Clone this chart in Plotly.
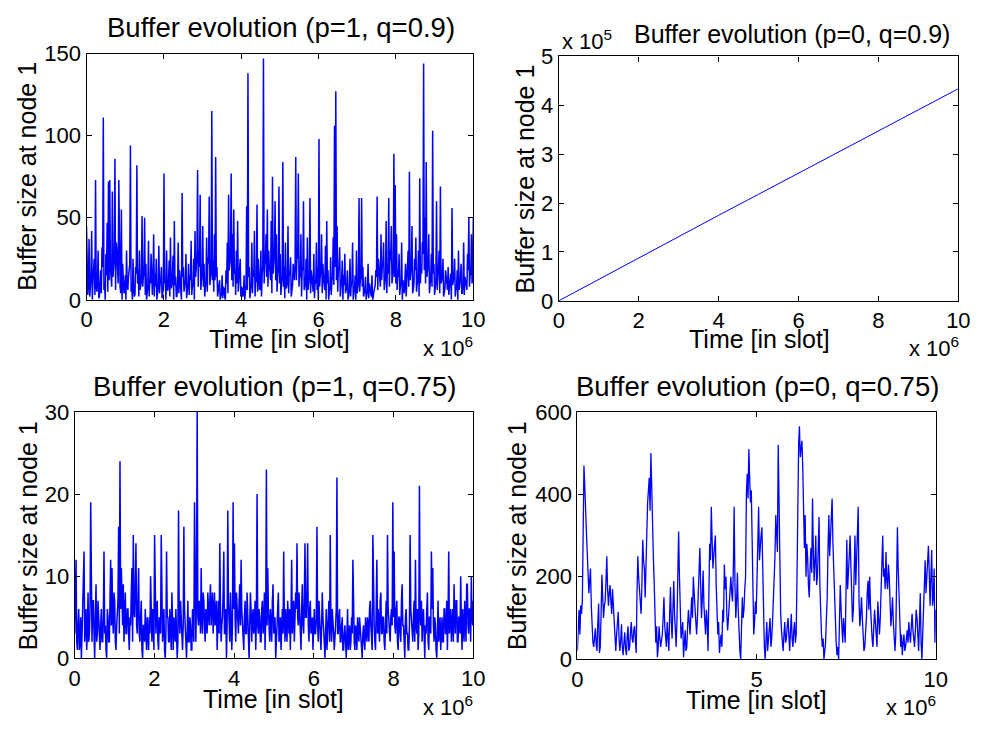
import numpy as np
import plotly.graph_objects as go

# ---------------- data ----------------
T_END = 1e7

# p=1, q=0.9 (buffer size, sampled uniformly over time)
buf_p1_q09 = [
    45, 4, 3, 10, 37, 2, 8, 14, 42, 0, 12, 18, 25, 3, 73, 8, 5, 12, 30, 1, 2, 9, 18, 4, 32, 20, 111, 6, 10, 0, 28, 15, 47, 5, 72, 12, 73, 20, 15, 8,
    66, 14, 20, 25, 86, 6, 35, 30, 12, 10, 73, 18, 8, 4, 55, 0, 22, 12, 4, 6, 15, 0, 30, 9, 6, 14, 18, 22, 94, 5, 10, 0, 25, 7, 2, 3, 20, 16, 82, 10,
    18, 2, 30, 6, 8, 12, 51, 8, 14, 16, 50, 3, 22, 0, 5, 9, 36, 2, 12, 10, 28, 5, 3, 14, 40, 2, 16, 8, 25, 0, 7, 9, 33, 4, 10, 12, 20, 1, 4, 7,
    77, 10, 12, 0, 30, 6, 6, 11, 24, 2, 38, 7, 9, 14, 27, 0, 48, 9, 14, 2, 2, 10, 35, 4, 18, 12, 8, 0, 65, 14, 20, 5, 11, 12, 28, 1, 5, 8, 22, 3,
    15, 12, 36, 3, 9, 8, 25, 0, 42, 14, 18, 26, 79, 8, 30, 20, 64, 6, 12, 15, 45, 8, 22, 2, 8, 12, 38, 5, 26, 22, 63, 9, 14, 16, 115, 12, 24, 5, 40, 12,
    87, 14, 20, 2, 5, 6, 12, 0, 3, 4, 15, 1, 8, 7, 2, 0, 18, 10, 35, 4, 64, 18, 22, 25, 77, 12, 40, 8, 55, 16, 18, 3, 30, 10, 48, 5, 12, 14, 25, 2,
    8, 7, 2, 4, 15, 0, 5, 9, 57, 6, 138, 14, 20, 1, 10, 10, 35, 4, 18, 14, 42, 2, 12, 11, 58, 5, 25, 18, 6, 7, 30, 2, 16, 20, 147, 10, 22, 24, 40, 14,
    55, 8, 30, 20, 18, 12, 48, 4, 75, 16, 25, 28, 60, 12, 40, 5, 15, 20, 69, 10, 28, 3, 10, 14, 84, 8, 20, 1, 35, 7, 8, 11, 45, 4, 18, 15, 26, 2, 5, 9,
    22, 16, 12, 22, 87, 12, 30, 25, 77, 8, 15, 14, 40, 2, 20, 18, 60, 6, 8, 10, 25, 0, 38, 6, 14, 14, 62, 4, 18, 12, 5, 5, 28, 1, 12, 10, 35, 6, 20, 0,
    98, 8, 15, 16, 40, 4, 22, 14, 10, 6, 33, 0, 48, 10, 18, 0, 5, 8, 26, 3, 12, 14, 38, 9, 106, 20, 127, 12, 45, 5, 20, 18, 32, 2, 8, 11, 24, 0, 15, 9,
    28, 4, 6, 9, 18, 0, 2, 6, 25, 2, 10, 10, 35, 0, 4, 7, 15, 0, 30, 4, 8, 11, 62, 5, 12, 14, 62, 8, 20, 2, 5, 6, 14, 0, 3, 5, 22, 1, 10, 7,
    4, 2, 15, 0, 2, 5, 8, 9, 18, 14, 63, 6, 25, 18, 12, 8, 40, 12, 20, 22, 35, 6, 10, 14, 48, 4, 22, 16, 62, 8, 30, 24, 45, 10, 15, 18, 89, 14, 70, 10,
    40, 6, 18, 14, 28, 3, 8, 10, 35, 0, 12, 7, 4, 12, 22, 2, 10, 16, 30, 8, 78, 12, 15, 20, 45, 4, 6, 10, 25, 18, 38, 5, 12, 14, 30, 2, 74, 10, 20, 16,
    35, 28, 144, 18, 50, 10, 84, 14, 18, 22, 40, 4, 10, 14, 28, 8, 103, 16, 22, 3, 8, 12, 60, 6, 15, 18, 30, 4, 69, 10, 12, 16, 25, 2, 5, 7, 18, 12, 10, 6,
    20, 3, 8, 12, 16, 0, 56, 9, 12, 14, 25, 2, 6, 7, 18, 0, 30, 6, 10, 12, 22, 4, 4, 9, 35, 3, 14, 12, 8, 6, 28, 18, 50, 8, 15, 16, 40, 10, 12, 50,
]

# p=0, q=0.9 (grows linearly)
time_p0_q09 = [0, 1e6, 2e6, 3e6, 4e6, 5e6, 6e6, 7e6, 8e6, 9e6, 1e7]
buf_p0_q09 = [0, 0.44e5, 0.88e5, 1.31e5, 1.75e5, 2.18e5, 2.61e5, 3.05e5, 3.48e5, 3.91e5, 4.34e5]

# p=1, q=0.75
buf_p1_q075 = [
    3, 6, 12, 2, 1, 4, 6, 1, 2, 5, 0, 3, 6, 8, 13, 2, 4, 6, 1, 3, 8, 2, 3, 6, 19, 4, 2, 7, 7, 3, 0, 5, 9, 2, 3, 7, 5, 1, 1, 4,
    6, 2, 2, 5, 13, 3, 4, 1, 0, 6, 5, 2, 2, 7, 12, 4, 11, 5, 3, 8, 7, 2, 1, 4, 5, 7, 16, 3, 24, 6, 11, 4, 4, 9, 2, 5, 8, 3, 3, 6,
    6, 3, 1, 5, 4, 8, 11, 2, 15, 6, 5, 9, 14, 4, 3, 7, 11, 3, 2, 5, 7, 1, 0, 4, 4, 2, 6, 3, 1, 5, 3, 1, 5, 3, 10, 2, 2, 6, 4, 1,
    15, 4, 3, 6, 7, 2, 1, 5, 4, 3, 15, 6, 2, 4, 6, 1, 0, 3, 13, 5, 5, 2, 2, 6, 4, 1, 8, 3, 1, 5, 3, 2, 6, 4, 0, 2, 18, 5, 3, 7,
    5, 2, 1, 4, 16, 6, 3, 1, 0, 3, 7, 2, 2, 5, 4, 1, 1, 6, 3, 2, 19, 4, 2, 8, 30, 5, 4, 7, 6, 3, 11, 5, 3, 8, 7, 4, 2, 6, 5, 3,
    8, 5, 4, 7, 9, 4, 6, 8, 3, 6, 8, 4, 5, 7, 1, 5, 7, 3, 14, 6, 2, 4, 5, 8, 13, 3, 3, 6, 0, 4, 18, 7, 4, 2, 8, 5, 1, 4, 19, 6,
    14, 5, 2, 8, 6, 3, 3, 7, 9, 4, 12, 6, 4, 2, 1, 5, 7, 3, 3, 8, 5, 2, 0, 4, 8, 6, 2, 5, 6, 3, 4, 7, 1, 5, 20, 4, 3, 6, 5, 2,
    2, 6, 7, 3, 4, 8, 1, 5, 23, 4, 11, 6, 3, 2, 6, 4, 2, 7, 9, 3, 4, 5, 0, 3, 5, 6, 8, 2, 3, 5, 1, 4, 6, 3, 13, 5, 2, 6, 4, 2,
    7, 4, 3, 6, 1, 5, 12, 3, 5, 7, 2, 4, 8, 6, 14, 5, 4, 8, 6, 3, 1, 6, 9, 4, 3, 7, 14, 5, 5, 8, 14, 4, 2, 6, 7, 3, 4, 5, 1, 3,
    6, 3, 3, 5, 16, 4, 2, 7, 5, 2, 1, 4, 8, 5, 4, 2, 0, 3, 6, 1, 3, 5, 7, 2, 15, 4, 2, 6, 5, 3, 1, 4, 4, 6, 22, 3, 3, 5, 6, 2,
    2, 4, 5, 1, 1, 3, 4, 2, 0, 3, 6, 1, 3, 4, 1, 2, 5, 3, 12, 4, 2, 1, 4, 3, 1, 5, 3, 2, 5, 4, 2, 1, 0, 3, 4, 2, 1, 5, 3, 2,
    5, 3, 2, 6, 7, 4, 3, 1, 15, 5, 4, 2, 1, 6, 12, 3, 6, 4, 2, 7, 8, 3, 3, 5, 5, 2, 1, 4, 7, 3, 15, 6, 4, 2, 2, 5, 6, 4, 19, 5,
    13, 4, 3, 6, 7, 2, 1, 5, 5, 3, 2, 7, 9, 4, 4, 2, 0, 5, 6, 3, 3, 1, 1, 4, 15, 6, 5, 3, 2, 5, 7, 2, 12, 4, 3, 6, 1, 3, 21, 5,
    4, 7, 2, 5, 6, 3, 0, 4, 3, 6, 8, 2, 1, 5, 5, 3, 13, 6, 11, 4, 2, 5, 4, 1, 0, 3, 7, 2, 3, 5, 1, 4, 5, 2, 2, 6, 6, 3, 3, 7,
    1, 5, 13, 3, 4, 6, 2, 4, 6, 2, 9, 5, 3, 7, 7, 2, 2, 5, 5, 3, 10, 4, 1, 6, 4, 2, 7, 5, 2, 9, 9, 4, 3, 6, 6, 2, 10, 5, 4, 7,
]

# p=0, q=0.75
buf_p0_q075 = [
    20, 95, 120, 60, 130, 110, 140, 300, 470, 420, 380, 310, 260, 220, 160, 190, 220, 130, 80, 40, 30, 60, 75, 35, 20, 90, 135, 15, 30, 110, 205, 150, 100, 130, 140, 190, 250, 170, 130, 160,
    180, 140, 110, 170, 125, 80, 40, 20, 60, 95, 115, 50, 20, 45, 85, 30, 10, 40, 65, 25, 10, 55, 80, 20, 30, 65, 90, 50, 40, 70, 80, 45, 15, 160, 250, 200, 170, 130, 110, 180,
    290, 240, 220, 150, 260, 350, 380, 410, 440, 360, 500, 420, 300, 250, 190, 120, 40, 80, 5, 30, 80, 50, 30, 45, 60, 100, 150, 80, 50, 30, 90, 60, 20, 110, 175, 90, 50, 120, 190, 110,
    60, 30, 100, 180, 310, 200, 100, 50, 70, 90, 5, 40, 70, 20, 30, 80, 120, 90, 60, 110, 150, 100, 200, 160, 120, 70, 60, 100, 150, 200, 270, 180, 100, 150, 215, 130, 80, 60, 120, 90,
    20, 150, 280, 240, 370, 290, 220, 250, 280, 300, 180, 120, 60, 90, 15, 40, 60, 30, 120, 90, 230, 170, 200, 110, 70, 100, 130, 180, 200, 160, 140, 220, 370, 180, 100, 140, 210, 120, 60, 20,
    0, 80, 150, 100, 120, 170, 200, 400, 450, 390, 510, 440, 380, 410, 250, 150, 60, 90, 140, 110, 200, 280, 370, 240, 280, 300, 320, 200, 60, 30, 0, 50, 90, 20, 50, 80, 100, 30, 50, 90,
    140, 200, 250, 350, 300, 260, 520, 380, 200, 110, 70, 30, 20, 60, 90, 40, 50, 80, 100, 60, 20, 70, 110, 50, 30, 70, 90, 40, 60, 200, 450, 520, 565, 490, 510, 530, 470, 380, 270, 350,
    200, 280, 250, 180, 150, 220, 270, 210, 390, 260, 190, 240, 300, 180, 200, 270, 345, 180, 100, 60, 30, 50, 0, 20, 40, 100, 150, 270, 350, 250, 300, 330, 390, 280, 200, 150, 100, 40, 10, 30,
    0, 90, 180, 120, 60, 40, 100, 70, 40, 160, 290, 170, 200, 250, 300, 220, 170, 90, 120, 200, 300, 180, 260, 290, 370, 140, 80, 110, 150, 100, 60, 20, 30, 60, 100, 160, 190, 120, 200, 130,
    80, 50, 30, 70, 120, 90, 50, 30, 140, 110, 60, 100, 180, 240, 300, 200, 220, 170, 260, 190, 170, 230, 200, 140, 80, 110, 150, 90, 40, 20, 60, 180, 320, 220, 150, 90, 30, 60, 10, 40,
    60, 20, 30, 50, 70, 40, 90, 60, 40, 80, 110, 70, 50, 30, 70, 120, 100, 60, 20, 90, 160, 40, 0, 60, 120, 180, 240, 160, 200, 230, 275, 210, 130, 200, 265, 130, 150, 220, 40, 120,
]

x_ticks = [0, 2e6, 4e6, 6e6, 8e6, 10e6]
x_ticktext = ["0", "2", "4", "6", "8", "10"]
x_ticks_br = [0, 5e6, 10e6]
x_ticktext_br = ["0", "5", "10"]

titles = ["Buffer evolution (p=1, q=0.9)", "Buffer evolution (p=0, q=0.9)",
          "Buffer evolution (p=1, q=0.75)", "Buffer evolution (p=0, q=0.75)"]
xlabel = "Time [in slot]"
ylabel = "Buffer size at node 1"

# ---------------- layout helpers ----------------
W, H = 990, 735
FONT = "Liberation Sans, Arial, Helvetica, sans-serif"
BLUE = "#0000ff"

def px_x(v):
    return v / W

def px_y(v):
    return 1 - v / H

# axes boxes in pixels: (left, right, top, bottom)
boxes = {
    1: (82, 476, 43, 298),
    2: (563, 970, 46, 299),
    3: (70, 476, 414, 669),
    4: (582, 947, 414, 670),
}

fig = go.Figure()

def time_grid(values):
    return np.linspace(0, T_END, len(values))

fig.add_trace(go.Scatter(x=time_grid(buf_p1_q09), y=buf_p1_q09, mode="lines",
                         line=dict(color=BLUE, width=1.5), xaxis="x", yaxis="y", showlegend=False))
fig.add_trace(go.Scatter(x=time_p0_q09, y=buf_p0_q09, mode="lines",
                         line=dict(color=BLUE, width=1), xaxis="x2", yaxis="y2", showlegend=False))
fig.add_trace(go.Scatter(x=time_grid(buf_p1_q075), y=buf_p1_q075, mode="lines",
                         line=dict(color=BLUE, width=1.5), xaxis="x3", yaxis="y3", showlegend=False))
fig.add_trace(go.Scatter(x=time_grid(buf_p0_q075), y=buf_p0_q075, mode="lines",
                         line=dict(color=BLUE, width=1.3), xaxis="x4", yaxis="y4", showlegend=False))

yranges = {1: [0, 150], 2: [0, 5e5], 3: [0, 30], 4: [0, 600]}
yticks = {1: ([0, 50, 100, 150], ["0", "50", "100", "150"]),
          2: ([0, 1e5, 2e5, 3e5, 4e5, 5e5], ["0", "1", "2", "3", "4", "5"]),
          3: ([0, 10, 20, 30], ["0", "10", "20", "30"]),
          4: ([0, 200, 400, 600], ["0", "200", "400", "600"])}

axis_common = dict(showgrid=False, zeroline=False, showline=True, linecolor="black",
                   linewidth=1.2, mirror="ticks", ticks="inside", ticklen=5,
                   tickcolor="black", tickwidth=1,
                   tickfont=dict(family=FONT, size=22, color="black"))

layout = dict(width=W, height=H, margin=dict(l=0, r=0, t=0, b=0),
              paper_bgcolor="white", plot_bgcolor="white", showlegend=False)

for k in range(1, 5):
    l, r, t, b = boxes[k]
    xs = "xaxis" if k == 1 else f"xaxis{k}"
    ys = "yaxis" if k == 1 else f"yaxis{k}"
    anchor_x = "y" if k == 1 else f"y{k}"
    anchor_y = "x" if k == 1 else f"x{k}"
    if k == 4:
        xt, xtt = x_ticks_br, x_ticktext_br
    else:
        xt, xtt = x_ticks, x_ticktext
    layout[xs] = dict(domain=[px_x(l), px_x(r)], range=[0, T_END], anchor=anchor_x,
                      tickvals=xt, ticktext=xtt, **axis_common)
    layout[ys] = dict(domain=[px_y(b), px_y(t)], range=yranges[k], anchor=anchor_y,
                      tickvals=yticks[k][0], ticktext=yticks[k][1], **axis_common)

fig.update_layout(**layout)

def ann(text, x, y, size, xanchor="center", yanchor="middle", angle=0):
    fig.add_annotation(text=text, x=px_x(x), y=px_y(y), xref="paper", yref="paper",
                       showarrow=False, xanchor=xanchor, yanchor=yanchor, textangle=angle,
                       font=dict(family=FONT, size=size, color="black"))

# titles
ann(titles[0], 280, 16, 27.5)
ann(titles[1], 801, 23, 25)
ann(titles[2], 273, 388, 27.5)
ann(titles[3], 765, 388, 27.5)

# x labels
ann(xlabel, 279, 339, 25)
ann(xlabel, 767, 339, 25)
ann(xlabel, 272, 711, 25)
ann(xlabel, 764, 712, 25)

# y labels
ann(ylabel, 22, 170, 25, angle=-90)
ann(ylabel, 529, 173, 25, angle=-90)
ann(ylabel, 22, 542, 25, angle=-90)
ann(ylabel, 520, 542, 25, angle=-90)

# exponent labels
ann("x 10<sup>6</sup>", 478, 347, 22, xanchor="right")
ann("x 10<sup>6</sup>", 973, 347, 22, xanchor="right")
ann("x 10<sup>6</sup>", 478, 718, 22, xanchor="right")
ann("x 10<sup>6</sup>", 949, 718, 22, xanchor="right")
ann("x 10<sup>5</sup>", 564, 29, 22, xanchor="left")

fig.write_html("out.html")
